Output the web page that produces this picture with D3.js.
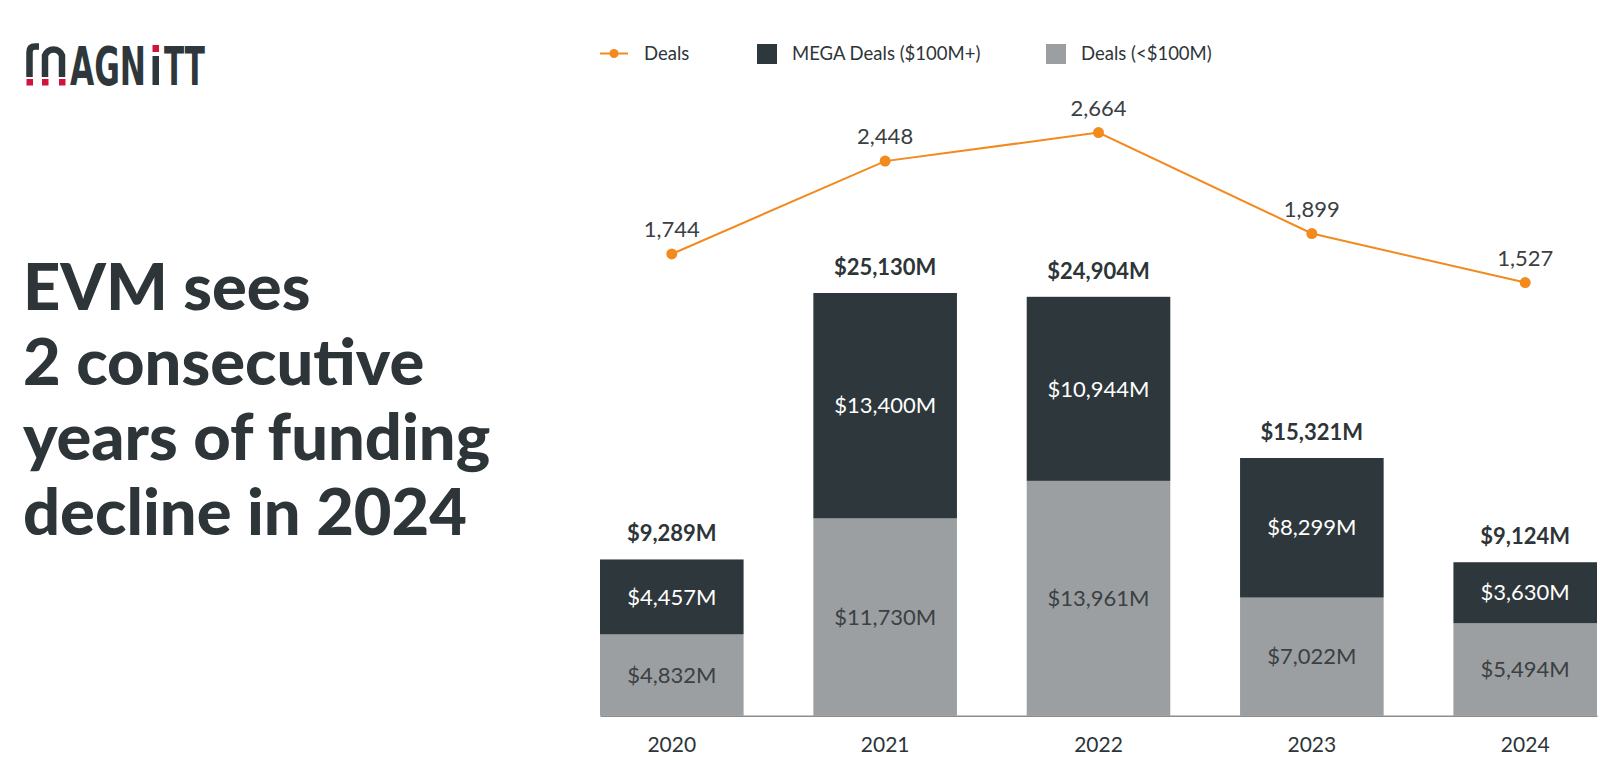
<!DOCTYPE html>
<html>
<head>
<meta charset="utf-8">
<script src="https://cdn.jsdelivr.net/npm/d3@7"></script>
<style>
  html, body { margin: 0; padding: 0; background: #ffffff; }
  svg { display: block; }
  text { font-family: Lato, "Open Sans", sans-serif; }
</style>
</head>
<body>
<svg id="chart" width="1605" height="766"></svg>
<script>
// ---- data ----
const years = ["2020", "2021", "2022", "2023", "2024"];
const dealsUnder100M = [4832, 11730, 13961, 7022, 5494];
const megaDeals = [4457, 13400, 10944, 8299, 3630];
const totalFunding = [9289, 25130, 24904, 15321, 9124];
const dealCounts = [1744, 2448, 2664, 1899, 1527];
const legendLabels = ["Deals", "MEGA Deals ($100M+)", "Deals (<$100M)"];
const titleLines = ["EVM sees", "2 consecutive", "years of funding", "decline in 2024"];

// ---- styles ----
const C = {
  dark: "#2e373b",
  gray: "#9c9fa1",
  orange: "#f28a1e",
  text: "#2d3538",
  label: "#3a4043",
  axis: "#8c8c8c",
  red: "#d2143c"
};

const svg = d3.select("#chart");

// ---- logo ----
const logo = svg.append("g").attr("class", "logo");
logo.append("path")
  .attr("d", "M29.5,77 V52 Q29.5,46.5 35,46.5 H39 M45,77 V55.5 A9,9 0 0 1 62,55.5 V77")
  .attr("fill", "none").attr("stroke", C.dark).attr("stroke-width", 6.5);
[[26.5, 79], [42, 79], [59, 79]].forEach(([x, y]) =>
  logo.append("rect").attr("x", x).attr("y", y).attr("width", 6.5).attr("height", 6.5).attr("fill", C.red));

function squeezedText(str, x0, x1) {
  const t = logo.append("text").attr("x", 0).attr("y", 0)
    .style("font-family", "'DejaVu Sans Condensed', 'DejaVu Sans', sans-serif")
    .style("font-weight", 700).style("font-size", "54px").attr("fill", C.dark).text(str);
  const w = t.node().getComputedTextLength();
  t.attr("transform", `translate(${x0},85) scale(${(x1 - x0) / w},1)`);
}
squeezedText("AGN", 70, 146);
logo.append("rect").attr("x", 152.5).attr("y", 56).attr("width", 6.5).attr("height", 29).attr("fill", C.dark);
logo.append("rect").attr("x", 152.5).attr("y", 45).attr("width", 6.5).attr("height", 7).attr("fill", C.red);
squeezedText("TT", 164, 205);

// ---- title ----
const title = svg.append("text").attr("x", 23).attr("y", 310)
  .style("font-size", "65px").style("font-weight", 900).attr("fill", C.text);
titleLines.forEach((t, i) => {
  title.append("tspan").attr("x", 23).attr("y", 310 + i * 75).text(t);
});

// ---- scales ----
const baseY = 715.7;
const x = d3.scaleBand().domain(years).range([600, 1597]).paddingInner(0.327).paddingOuter(0);
const y = d3.scaleLinear().domain([0, 30000]).range([baseY, baseY - 504.6]);
const yDeals = d3.scaleLinear().domain([0, 3000]).range([484, 88.3]);

const fmt = d3.format(",");

// ---- bars ----
const rows = years.map((yr, i) => ({
  year: yr, under: dealsUnder100M[i], mega: megaDeals[i], total: totalFunding[i], deals: dealCounts[i]
}));

const bars = svg.append("g").attr("class", "bars");
bars.selectAll("rect.under").data(rows).join("rect").attr("class", "under")
  .attr("x", d => x(d.year)).attr("width", x.bandwidth())
  .attr("y", d => y(d.under)).attr("height", d => baseY - y(d.under))
  .attr("fill", C.gray);
bars.selectAll("rect.mega").data(rows).join("rect").attr("class", "mega")
  .attr("x", d => x(d.year)).attr("width", x.bandwidth())
  .attr("y", d => y(d.under + d.mega)).attr("height", d => y(d.under) - y(d.under + d.mega))
  .attr("fill", C.dark);

// inner labels
bars.selectAll("text.ulab").data(rows).join("text").attr("class", "ulab")
  .attr("x", d => x(d.year) + x.bandwidth() / 2)
  .attr("y", d => (y(d.under) + baseY) / 2)
  .attr("dy", "0.35em").attr("text-anchor", "middle")
  .style("font-size", "22px").attr("fill", C.label)
  .text(d => "$" + fmt(d.under) + "M");
bars.selectAll("text.mlab").data(rows).join("text").attr("class", "mlab")
  .attr("x", d => x(d.year) + x.bandwidth() / 2)
  .attr("y", d => (y(d.under) + y(d.under + d.mega)) / 2)
  .attr("dy", "0.35em").attr("text-anchor", "middle")
  .style("font-size", "22px").attr("fill", "#ffffff")
  .text(d => "$" + fmt(d.mega) + "M");
// totals
bars.selectAll("text.tlab").data(rows).join("text").attr("class", "tlab")
  .attr("x", d => x(d.year) + x.bandwidth() / 2)
  .attr("y", d => y(d.under + d.mega) - 18)
  .attr("text-anchor", "middle")
  .style("font-size", "22px").style("font-weight", 700).attr("fill", C.text)
  .text(d => "$" + fmt(d.total) + "M");

// ---- axis ----
const axis = svg.append("g").attr("transform", `translate(0,${baseY})`)
  .call(d3.axisBottom(x).tickSize(0).tickPadding(21));
axis.select(".domain").attr("stroke", C.axis).attr("stroke-width", 1.5);
axis.selectAll("text").style("font-size", "21px").style("font-family", "Lato, sans-serif").attr("fill", C.text);

// ---- line ----
const cx = d => x(d.year) + x.bandwidth() / 2;
const line = d3.line().x(cx).y(d => yDeals(d.deals));
svg.append("path").datum(rows).attr("d", line)
  .attr("fill", "none").attr("stroke", C.orange).attr("stroke-width", 2);
svg.selectAll("circle.pt").data(rows).join("circle").attr("class", "pt")
  .attr("cx", cx).attr("cy", d => yDeals(d.deals)).attr("r", 5.5).attr("fill", C.orange);
svg.selectAll("text.dlab").data(rows).join("text").attr("class", "dlab")
  .attr("x", cx).attr("y", d => yDeals(d.deals) - 17)
  .attr("text-anchor", "middle").style("font-size", "22px").attr("fill", C.label)
  .text(d => fmt(d.deals));

// ---- legend ----
const lg = svg.append("g").attr("class", "legend");
lg.append("line").attr("x1", 600).attr("x2", 628).attr("y1", 53.5).attr("y2", 53.5)
  .attr("stroke", C.orange).attr("stroke-width", 2);
lg.append("circle").attr("cx", 614).attr("cy", 53.5).attr("r", 4.5).attr("fill", C.orange);
lg.append("text").attr("x", 644).attr("y", 60).style("font-size", "18.5px").attr("fill", C.text).text(legendLabels[0]);
lg.append("rect").attr("x", 757).attr("y", 44).attr("width", 20).attr("height", 20).attr("fill", C.dark);
lg.append("text").attr("x", 792).attr("y", 60).style("font-size", "18.5px").attr("fill", C.text).text(legendLabels[1]);
lg.append("rect").attr("x", 1046).attr("y", 44).attr("width", 20).attr("height", 20).attr("fill", C.gray);
lg.append("text").attr("x", 1081).attr("y", 60).style("font-size", "18.5px").attr("fill", C.text).text(legendLabels[2]);
</script>
</body>
</html>
